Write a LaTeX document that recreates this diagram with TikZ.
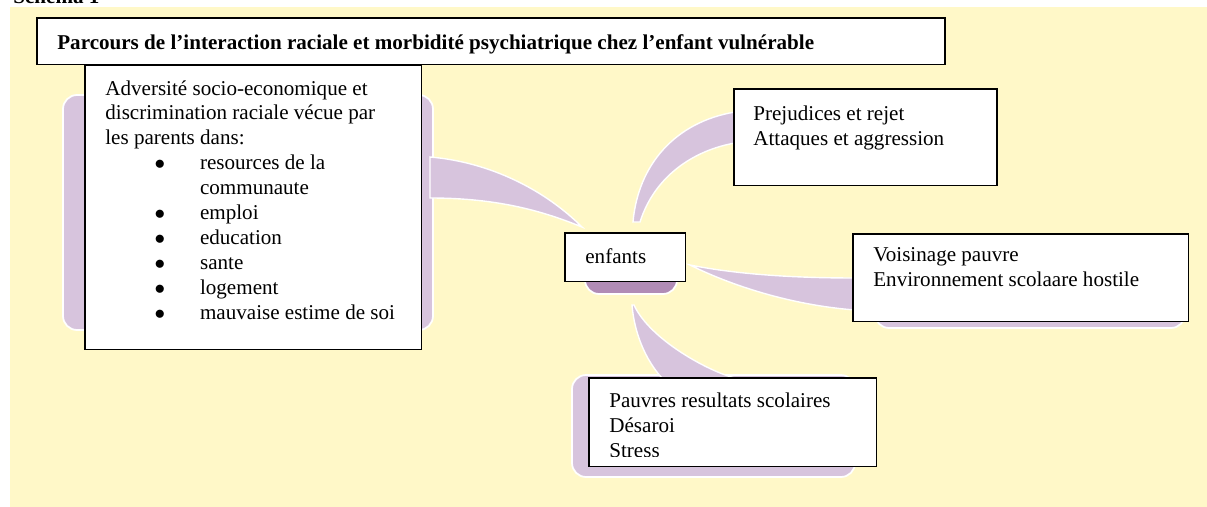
\documentclass[tikz,border=0pt]{standalone}
\usepackage{fontspec}
\setmainfont{Liberation Serif}
\usetikzlibrary{positioning}
\newdimen\pxu \pxu=0.5669pt
\definecolor{bgyellow}{HTML}{FFF8C8}
\definecolor{lilac}{HTML}{D7C4DD}
\definecolor{plum}{HTML}{B18CB6}
\newcommand{\bitem}[1]{\hspace*{28pt}\makebox[25.9pt][l]{\raisebox{0.3pt}{$\bullet$}}#1}
\newcommand{\bcont}[1]{\hspace*{53.9pt}#1}

\begin{document}
\begin{tikzpicture}[x=0.02cm, y=-0.02cm,
    panel/.style={draw=black, line width=0.9pt, fill=white, anchor=north west, inner sep=0pt},
    boxtext/.style={anchor=north west, align=left, inner sep=0pt, font=\fontsize{12}{14.2}\selectfont},
    blob/.style={fill=lilac, draw=white, line width=1pt, rounded corners=8pt},
    branch/.style={fill=lilac, draw=white, line width=0.8pt}]
    \useasboundingbox (0,0) rectangle (1207,507);
    \fill[bgyellow] (10,7) rectangle (1207,507);
    \node[anchor=base west, inner sep=0pt, font=\bfseries\fontsize{12}{14}\selectfont] (schema) at (13,4) {Schéma 1};
    % purple shapes behind the boxes
    \draw[blob] (63,95) rectangle (433,330);
    \draw[blob] (875,250) rectangle (1185,328);
    \draw[blob] (572,375) rectangle (855,477);
    \draw[branch] (430,157) .. controls (490,162) and (545,190) .. (582,227) .. controls (545,212) and (500,198) .. (430,198) -- cycle;
    \draw[branch] (633,222) .. controls (638,165) and (675,122) .. (735,112) -- (735,143) .. controls (695,150) and (655,175) .. (640,222) -- cycle;
    \draw[branch] (690,265) .. controls (740,275) and (800,278) .. (855,278) -- (855,310) .. controls (790,305) and (730,285) .. (690,265) -- cycle;
    \draw[branch] (632,305) .. controls (635,340) and (650,365) .. (662,378) -- (735,378) .. controls (710,372) and (650,340) .. (634,305) -- cycle;
    \draw[fill=plum, draw=white, line width=1pt, rounded corners=8pt] (585,245) rectangle (677,294);
    % boxes
    \node[panel, minimum width=912\pxu, minimum height=47\pxu] (title) at (36,17) {};
    \node[panel, minimum width=338\pxu, minimum height=286\pxu] (adv) at (84,64) {};
    \node[panel, minimum width=121\pxu, minimum height=49\pxu] (enfants) at (564,232) {};
    \node[panel, minimum width=264\pxu, minimum height=97\pxu] (prej) at (733,88) {};
    \node[panel, minimum width=337\pxu, minimum height=88\pxu] (voisin) at (852,233) {};
    \node[panel, minimum width=289\pxu, minimum height=89\pxu] (pauvres) at (588,377) {};
    % texts
    \node[anchor=base west, inner sep=0pt, font=\bfseries\fontsize{12}{14}\selectfont] (titletxt) at ([shift={(21,33)}]title.north west) {Parcours de l’interaction raciale et morbidité psychiatrique chez l’enfant vulnérable};
    \node[boxtext] (advtxt) at ([shift={(21,16)}]adv.north west) {Adversité socio-economique et\\discrimination raciale vécue par\\les parents dans:\\\bitem{resources de la}\\\bcont{communaute}\\\bitem{emploi}\\\bitem{education}\\\bitem{sante}\\\bitem{logement}\\\bitem{mauvaise estime de soi}};
    \node[anchor=base west, inner sep=0pt, font=\fontsize{12}{14.2}\selectfont] (enfantstxt) at ([shift={(21,31)}]enfants.north west) {enfants};
    \node[boxtext] (prejtxt) at ([shift={(20,18)}]prej.north west) {Prejudices et rejet\\Attaques et aggression};
    \node[boxtext] (voisintxt) at ([shift={(21,14)}]voisin.north west) {Voisinage pauvre\\Environnement scolaare hostile};
    \begin{scope}
      \clip (588,377) rectangle (877,456);
      \node[boxtext] (pauvrestxt) at ([shift={(21,16)}]pauvres.north west) {Pauvres resultats scolaires\\Désaroi\\Stress};
    \end{scope}
\end{tikzpicture}
\end{document}
